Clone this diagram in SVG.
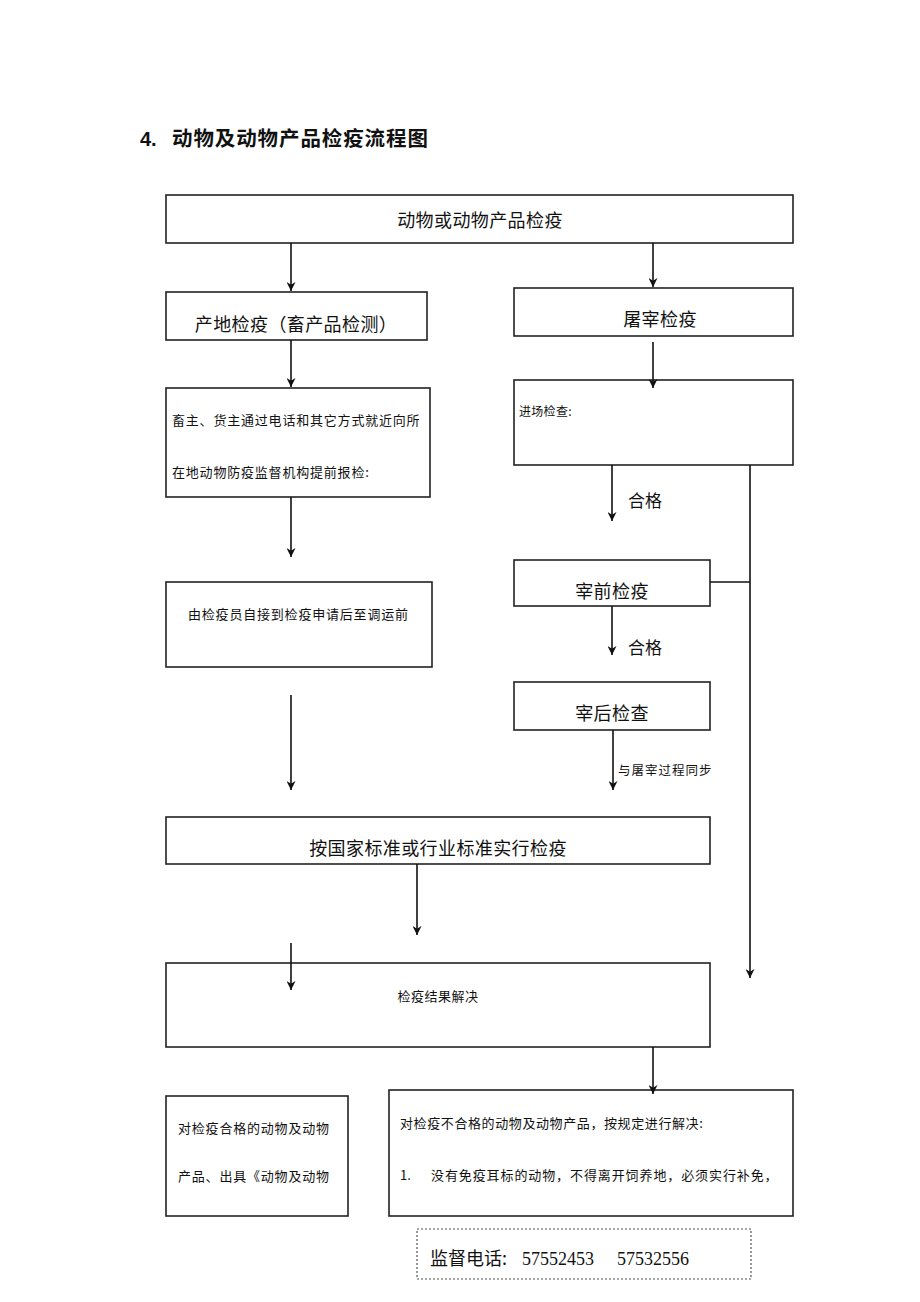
<svg xmlns="http://www.w3.org/2000/svg" width="920" height="1302" viewBox="0 0 920 1302">
<style>
.box{fill:#fff;stroke:#222;stroke-width:1.6}
.ln{fill:none;stroke:#111;stroke-width:1.6}
.t{font-family:"Noto Sans CJK SC","Noto Sans",sans-serif;fill:#111}
.big{font-size:18px}
.sm{font-size:13px;letter-spacing:0.8px}
.num{font-family:"Liberation Serif",serif;font-size:18px;fill:#111}
</style>
<defs>
<marker id="ah" viewBox="0 0 10 10" refX="10" refY="5" markerWidth="9" markerHeight="9" markerUnits="userSpaceOnUse" orient="auto">
<path d="M0,0 L10,5 L0,10 L3,5 Z" fill="#111"/>
</marker>
</defs>
<rect width="920" height="1302" fill="#fff"/>
<text x="140" y="146" font-family="'Liberation Sans','Noto Sans CJK SC',sans-serif" font-size="20" font-weight="bold" fill="#111">4.</text>
<text x="172" y="146" class="t" font-size="20.5" font-weight="bold" letter-spacing="0.9">动物及动物产品检疫流程图</text>

<g id="n1"><rect class="box" x="166" y="195" width="627" height="48"/><text x="480" y="227" class="t big" text-anchor="middle" letter-spacing="0.4">动物或动物产品检疫</text></g>
<g id="n2"><rect class="box" x="166" y="292" width="261" height="48"/><text x="296" y="331" class="t big" text-anchor="middle" letter-spacing="0.4">产地检疫（畜产品检测）</text></g>
<g id="n3"><rect class="box" x="514" y="288" width="279" height="48"/><text x="660" y="326" class="t big" text-anchor="middle" letter-spacing="0.4">屠宰检疫</text></g>
<g id="n4"><rect class="box" x="166" y="388" width="264" height="109"/>
<text x="172" y="425" class="t sm">畜主、货主通过电话和其它方式就近向所</text>
<text x="172" y="477" class="t sm">在地动物防疫监督机构提前报检:</text></g>
<g id="n5"><rect class="box" x="514" y="380" width="279" height="85"/><text x="519" y="416" class="t" font-size="12" letter-spacing="0.3">进场检查:</text></g>
<g id="n6"><rect class="box" x="166" y="582" width="266" height="85"/><text x="188" y="619" class="t sm">由检疫员自接到检疫申请后至调运前</text></g>
<g id="n7"><rect class="box" x="514" y="560" width="196" height="46"/><text x="612" y="598" class="t big" text-anchor="middle" letter-spacing="0.4">宰前检疫</text></g>
<g id="n8"><rect class="box" x="514" y="682" width="196" height="48"/><text x="612" y="720" class="t big" text-anchor="middle" letter-spacing="0.4">宰后检查</text></g>
<g id="n9"><rect class="box" x="166" y="817" width="544" height="47"/><text x="438" y="855" class="t big" text-anchor="middle" letter-spacing="0.4">按国家标准或行业标准实行检疫</text></g>
<g id="n10"><rect class="box" x="166" y="963" width="544" height="84"/><text x="438" y="1001" class="t" font-size="13" text-anchor="middle" letter-spacing="0.5">检疫结果解决</text></g>
<g id="n11"><rect class="box" x="166" y="1096" width="182" height="120"/>
<text x="178" y="1133" class="t sm">对检疫合格的动物及动物</text>
<text x="178" y="1181" class="t sm">产品、出具《动物及动物</text></g>
<g id="n12"><rect class="box" x="389" y="1090" width="404" height="126"/>
<text x="400" y="1128" class="t" font-size="13" letter-spacing="0.6">对检疫不合格的动物及动物产品，按规定进行解决:</text>
<text x="400" y="1180" class="t" font-size="13">1.</text>
<text x="431" y="1180" class="t" font-size="13" letter-spacing="0.9">没有免疫耳标的动物，不得离开饲养地，必须实行补免，</text></g>
<g id="n13"><rect x="417" y="1229" width="334" height="50" fill="#fff" stroke="#555" stroke-width="1.2" stroke-dasharray="2,2"/>
<text x="430" y="1265" class="t" font-size="18">监督电话:</text>
<text x="522" y="1265" class="num">57552453</text>
<text x="617" y="1265" class="num">57532556</text></g>

<g id="connectors">
<line class="ln" x1="291" y1="243" x2="291" y2="291" marker-end="url(#ah)"/>
<line class="ln" x1="653" y1="243" x2="653" y2="287" marker-end="url(#ah)"/>
<line class="ln" x1="291" y1="340" x2="291" y2="387" marker-end="url(#ah)"/>
<line class="ln" x1="653" y1="342" x2="653" y2="388" marker-end="url(#ah)"/>
<line class="ln" x1="291" y1="497" x2="291" y2="557" marker-end="url(#ah)"/>
<line class="ln" x1="612" y1="465" x2="612" y2="521" marker-end="url(#ah)"/>
<line class="ln" x1="750" y1="465" x2="750" y2="978" marker-end="url(#ah)"/>
<line class="ln" x1="710" y1="582" x2="750" y2="582"/>
<line class="ln" x1="612" y1="606" x2="612" y2="655" marker-end="url(#ah)"/>
<line class="ln" x1="613" y1="730" x2="613" y2="790" marker-end="url(#ah)"/>
<line class="ln" x1="291" y1="695" x2="291" y2="790" marker-end="url(#ah)"/>
<line class="ln" x1="417" y1="864" x2="417" y2="935" marker-end="url(#ah)"/>
<line class="ln" x1="291" y1="943" x2="291" y2="990" marker-end="url(#ah)"/>
<line class="ln" x1="653" y1="1047" x2="653" y2="1094" marker-end="url(#ah)"/>
<text x="628" y="507" class="t" font-size="17">合格</text>
<text x="628" y="654" class="t" font-size="17">合格</text>
<text x="618" y="775" class="t" font-size="12.5" letter-spacing="1">与屠宰过程同步</text>
</g>
</svg>
